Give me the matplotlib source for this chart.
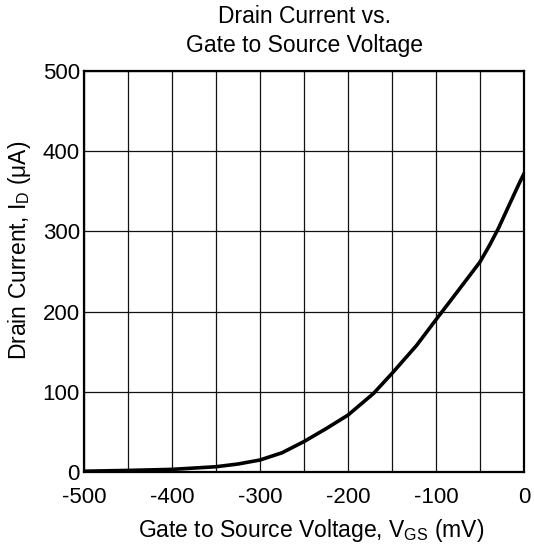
import numpy as np
import matplotlib
matplotlib.use('Agg')
import matplotlib.pyplot as plt

plt.rcParams['font.family'] = ['Liberation Sans', 'DejaVu Sans']
plt.rcParams['mathtext.fontset'] = 'custom'
plt.rcParams['mathtext.rm'] = 'Liberation Sans'
plt.rcParams['axes.unicode_minus'] = False

vgs = [-500, -450, -400, -350, -325, -300, -275, -250, -225, -200, -171, -150,
       -122, -100, -77, -50, -39, -29, -16, -5, 0]
id_ua = [1, 2, 3.3, 6.6, 10, 15, 24, 38, 54, 71, 98, 123,
         158, 190, 223, 262, 283, 304, 335, 361, 372]

x_ticks = [-500, -400, -300, -200, -100, 0]
y_ticks = [0, 100, 200, 300, 400, 500]

fig = plt.figure(figsize=(5.34, 5.45), dpi=100)
ax = fig.add_axes([0.1573, 0.1339, 0.824, 0.7358])

ax.plot(vgs, id_ua, color='black', lw=2.6, solid_joinstyle='round')

ax.set_xlim(-500, 0)
ax.set_ylim(0, 500)
ax.set_xticks(x_ticks)
ax.set_xticks(np.arange(-450, 0, 50), minor=True)
ax.set_yticks(y_ticks)
ax.grid(True, which='both', color='#111111', lw=0.9)
ax.tick_params(which='both', length=0, labelsize=16)
ax.tick_params(axis='x', pad=11)
ax.tick_params(axis='y', pad=3)
for s in ax.spines.values():
    s.set_linewidth(1.6)

ax.set_xlabel(r'Gate to Source Voltage, V$_\mathregular{GS}$ (mV)', fontsize=16.5)
ax.set_ylabel(r'Drain Current, I$_\mathregular{D}$ ($\mathregular{\mu}$A)', fontsize=16.5)
ax.xaxis.set_label_coords(0.517, -0.112)
ax.yaxis.set_label_coords(-0.116, 0.554)
ax.set_title('Drain Current vs.\nGate to Source Voltage', fontsize=16.5, pad=14, linespacing=1.3)

fig.savefig('out.png', dpi=100)
